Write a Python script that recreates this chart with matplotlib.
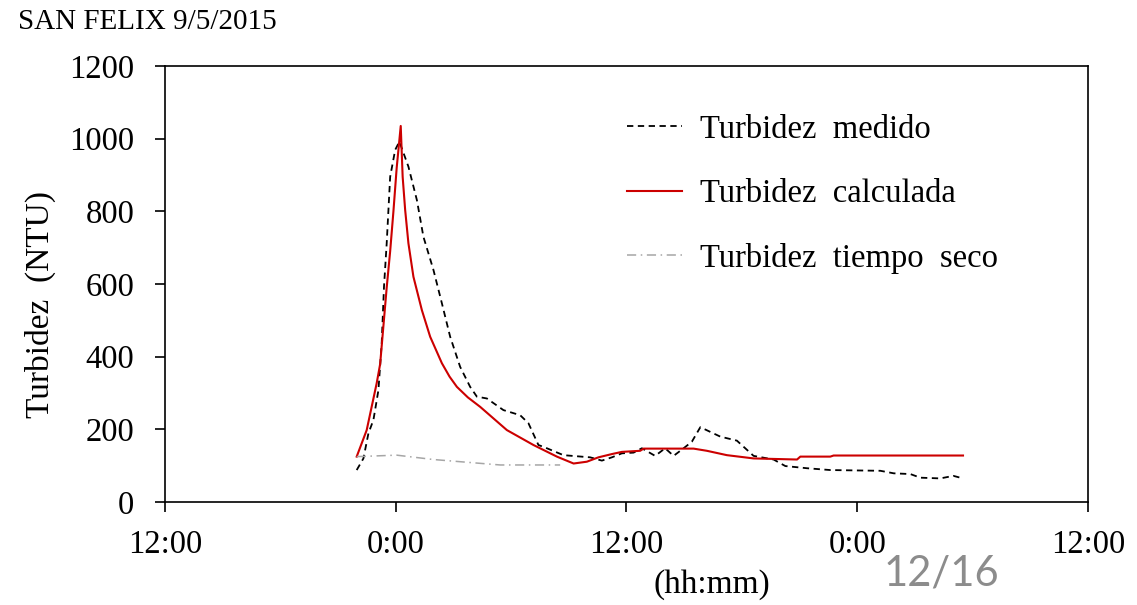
import matplotlib
matplotlib.use('Agg')
import matplotlib.pyplot as plt

plt.rcParams['font.family'] = 'Liberation Serif'

# Zeit in Stunden ab 12:00 des ersten Tages
t_med = [9.97, 10.32, 10.58, 10.84, 11.1, 11.27, 11.39, 11.53, 11.71, 11.97, 12.19,
         12.66, 13.1, 13.44, 13.96, 14.4, 14.83, 15.35, 15.87, 16.22, 16.74, 17.6, 18.47, 18.9,
         19.42, 19.86, 20.72, 22.11, 22.72, 23.24, 23.76, 24.37, 24.8, 25.49, 26.01, 26.45,
         26.97, 27.4, 27.84, 28.88, 29.74, 30.61, 31.65, 32.26, 33.39, 34.6, 37.2, 37.9,
         38.76, 39.28, 40.32, 41.0, 41.5]
v_med = [88, 120, 189, 226, 308, 437, 593, 712, 895, 969, 992,
         923, 831, 730, 639, 547, 455, 372, 317, 290, 285, 253, 239, 217,
         157, 148, 129, 123, 114, 123, 134, 136, 148, 127, 148, 127,
         148, 166, 206, 180, 169, 127, 117, 99, 93, 88, 86, 79,
         77, 67, 65, 72, 65]

t_cal = [9.97, 10.49, 11.01, 11.19, 11.53, 11.71, 11.88, 12.05, 12.14, 12.26, 12.36, 12.49,
         12.66, 12.92, 13.36, 13.79, 14.4, 14.8, 15.18, 15.75, 16.39, 17.78, 19.16, 20.38,
         21.25, 21.94, 22.54, 23.24, 23.76, 24.71, 24.89, 27.49, 28.18, 29.22, 30.61, 32.87,
         33.04, 34.6, 34.77, 41.5]
v_cal = [125, 198, 327, 380, 590, 690, 800, 920, 969, 1035, 895, 804,
         712, 620, 528, 455, 382, 345, 317, 288, 262, 198, 157, 125,
         106, 111, 123, 132, 138, 141, 147, 147, 141, 129, 120, 117,
         125, 125, 128, 128]

t_seco = [9.97, 12.05, 13.96, 16.04, 17.43, 20.55]
v_seco = [125, 129, 117, 108, 102, 102]

x_ticks = [0, 12, 24, 36, 48]
x_labels = ['12:00', '0:00', '12:00', '0:00', '12:00']
y_ticks = [0, 200, 400, 600, 800, 1000, 1200]

fig = plt.figure(figsize=(11.37, 6.05), dpi=100)
ax = fig.add_axes([0.1451, 0.1702, 0.8118, 0.7207])

ax.plot(t_med, v_med, color='black', lw=1.3, linestyle=(0, (3.5, 2.5)), label='Turbidez  medido')
ax.plot(t_cal, v_cal, color='#cc0000', lw=1.5, label='Turbidez  calculada')
ax.plot(t_seco, v_seco, color='#a6a6a6', lw=1.1, linestyle=(0, (6, 3, 1, 3)),
        label='Turbidez  tiempo  seco')

ax.set_xlim(0, 48)
ax.set_ylim(0, 1200)
ax.set_xticks(x_ticks)
ax.set_xticklabels(x_labels)
ax.set_yticks(y_ticks)
ax.tick_params(direction='out', length=7, width=1.2, labelsize=23.5)
ax.tick_params(axis='y', pad=15)
ax.tick_params(axis='x', pad=13)
for s in ax.spines.values():
    s.set_linewidth(1.2)

fig.text(40 / 1137, 1 - 304 / 605, 'Turbidez  (NTU)', fontsize=24, rotation=90,
         ha='center', va='center')
fig.text(712 / 1137, 1 - 585 / 605, '(hh:mm)', fontsize=24, ha='center', va='center')
fig.text(18 / 1137, 1 - 22 / 605, 'SAN FELIX 9/5/2015', fontsize=21, ha='left', va='center')
fig.text(941 / 1137, 1 - 573 / 605, '12/16', fontsize=30, color='#8c8c8c',
         family='Lato', ha='center', va='center')

ax.legend(loc='upper left', bbox_to_anchor=(627 / 1137, 1 - 114 / 605),
          bbox_transform=fig.transFigure, frameon=False, fontsize=23.5,
          borderpad=0, borderaxespad=0, handlelength=1.69, handletextpad=0.55,
          labelspacing=1.04)

fig.savefig('out.png', dpi=100)
